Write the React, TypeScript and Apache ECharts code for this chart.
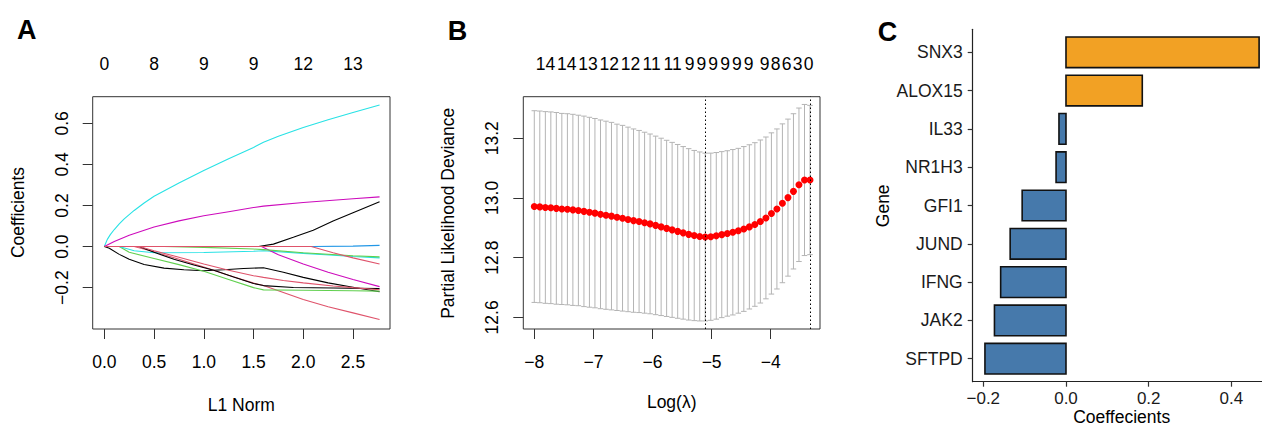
import React, { useEffect, useRef } from 'react';
import * as echarts from 'echarts';

const FONT = '"Liberation Sans", Arial, Helvetica, sans-serif';

// ---------------- Panel A : coefficient paths ----------------
const l1Ticks = [0, 0.5, 1, 1.5, 2, 2.5];
const l1TopLabels = ['0', '8', '9', '9', '12', '13'];
const coefTicksA = [-0.2, 0, 0.2, 0.4, 0.6];

const pathCyan1 = [[0, 0], [0.03, 0.035], [0.06, 0.058], [0.1, 0.083], [0.15, 0.11], [0.2, 0.135], [0.3, 0.176], [0.4, 0.212], [0.5, 0.245], [0.75, 0.31], [1.0, 0.37], [1.25, 0.428], [1.5, 0.483], [1.6, 0.508], [1.75, 0.537], [2.0, 0.58], [2.25, 0.618], [2.5, 0.653], [2.767, 0.69]];
const pathMagenta1 = [[0, 0], [0.1, 0.025], [0.25, 0.055], [0.5, 0.095], [0.75, 0.125], [1.0, 0.15], [1.25, 0.17], [1.5, 0.19], [1.6, 0.197], [2.0, 0.215], [2.5, 0.233], [2.767, 0.242]];
const pathBlack1 = [[0, 0], [0.05, -0.008], [0.15, -0.038], [0.25, -0.062], [0.4, -0.087], [0.6, -0.105], [0.8, -0.113], [1.0, -0.118], [1.2, -0.113], [1.4, -0.107], [1.6, -0.103], [1.8, -0.125], [2.0, -0.15], [2.25, -0.177], [2.5, -0.198], [2.767, -0.22]];
const pathBlack2 = [[0, 0], [0.35, 0], [0.5, -0.028], [0.7, -0.062], [0.9, -0.09], [1.1, -0.115], [1.3, -0.148], [1.5, -0.18], [1.6, -0.19], [1.9, -0.199], [2.3, -0.202], [2.767, -0.205]];
const pathBlack3 = [[0, 0], [1.55, 0], [1.7, 0.012], [1.9, 0.045], [2.1, 0.08], [2.3, 0.125], [2.5, 0.165], [2.767, 0.218]];
const pathRed1 = [[0, 0], [2.08, 0], [2.3, -0.03], [2.5, -0.055], [2.767, -0.085]];
const pathRed2 = [[0, 0], [0.3, 0], [0.5, -0.025], [0.75, -0.062], [1.0, -0.1], [1.25, -0.14], [1.5, -0.178], [1.6, -0.19], [1.75, -0.215], [2.0, -0.258], [2.25, -0.293], [2.5, -0.323], [2.767, -0.355]];
const pathRed3 = [[0, 0], [0.35, 0], [0.5, -0.02], [0.75, -0.052], [1.0, -0.085], [1.25, -0.115], [1.5, -0.142], [1.6, -0.15], [1.8, -0.165], [2.0, -0.177], [2.3, -0.192], [2.5, -0.2], [2.767, -0.21]];
const pathGreen1 = [[0, 0], [0.15, 0], [0.25, -0.028], [0.5, -0.058], [0.75, -0.088], [1.0, -0.12], [1.25, -0.16], [1.5, -0.2], [1.6, -0.211], [2.0, -0.213], [2.5, -0.215], [2.767, -0.217]];
const pathGreen2 = [[0, 0], [0.6, 0], [1.0, -0.004], [1.5, -0.012], [1.6, -0.015], [2.0, -0.03], [2.5, -0.045], [2.767, -0.05]];
const pathCyan2 = [[0, 0], [0.15, 0], [0.3, -0.02], [0.5, -0.03], [1.0, -0.029], [1.5, -0.023], [1.6, -0.02], [2.0, -0.033], [2.5, -0.048], [2.767, -0.055]];
const pathBlue1 = [[0, 0], [2.1, 0], [2.5, 0.002], [2.767, 0.006]];
const pathMagenta2 = [[0, 0], [1.58, 0], [1.75, -0.04], [2.0, -0.085], [2.25, -0.125], [2.5, -0.16], [2.767, -0.195]];

const R_BLACK = '#000000';
const R_RED = '#DF536B';
const R_GREEN = '#61D04F';
const R_BLUE = '#2297E6';
const R_CYAN = '#28E2E5';
const R_MAGENTA = '#CD0BBC';

const pathsA: { data: number[][]; color: string }[] = [
  { data: pathBlack1, color: R_BLACK },
  { data: pathRed2, color: R_RED },
  { data: pathGreen1, color: R_GREEN },
  { data: pathBlue1, color: R_BLUE },
  { data: pathCyan2, color: R_CYAN },
  { data: pathMagenta2, color: R_MAGENTA },
  { data: pathBlack2, color: R_BLACK },
  { data: pathRed3, color: R_RED },
  { data: pathGreen2, color: R_GREEN },
  { data: pathCyan1, color: R_CYAN },
  { data: pathMagenta1, color: R_MAGENTA },
  { data: pathBlack3, color: R_BLACK },
  { data: pathRed1, color: R_RED },
];

// ---------------- Panel B : cross-validation curve ----------------
const logLambda = [-8.000, -7.907, -7.813, -7.720, -7.627, -7.534, -7.440, -7.347, -7.254, -7.160,
  -7.067, -6.974, -6.880, -6.787, -6.694, -6.601, -6.507, -6.414, -6.321, -6.227,
  -6.134, -6.041, -5.947, -5.854, -5.761, -5.668, -5.574, -5.481, -5.388, -5.294,
  -5.201, -5.108, -5.014, -4.921, -4.828, -4.734, -4.641, -4.548, -4.455, -4.361,
  -4.268, -4.175, -4.081, -3.988, -3.895, -3.802, -3.708, -3.615, -3.522, -3.428, -3.335];
const cvm = [12.971, 12.970, 12.968, 12.967, 12.965, 12.963, 12.962, 12.960, 12.958, 12.955,
  12.952, 12.949, 12.945, 12.942, 12.939, 12.935, 12.932, 12.928, 12.924, 12.921,
  12.917, 12.913, 12.908, 12.903, 12.898, 12.893, 12.888, 12.883, 12.878, 12.874,
  12.871, 12.869, 12.870, 12.873, 12.877, 12.881, 12.885, 12.890, 12.896, 12.903,
  12.911, 12.921, 12.933, 12.948, 12.963, 12.982, 13.001, 13.022, 13.044, 13.060, 13.060];
const cvsd = [0.321, 0.321, 0.321, 0.321, 0.321, 0.320, 0.320, 0.320, 0.319, 0.319,
  0.318, 0.317, 0.316, 0.315, 0.314, 0.312, 0.311, 0.309, 0.307, 0.305,
  0.303, 0.301, 0.299, 0.297, 0.295, 0.293, 0.291, 0.289, 0.287, 0.285,
  0.283, 0.281, 0.280, 0.279, 0.278, 0.277, 0.277, 0.276, 0.276, 0.275,
  0.274, 0.273, 0.271, 0.270, 0.268, 0.266, 0.263, 0.260, 0.257, 0.253, 0.250];
const lambdaTicks = [-8, -7, -6, -5, -4];
const devianceTicks = [12.6, 12.8, 13.0, 13.2];
const nzPos = [-7.811, -7.452, -7.091, -6.733, -6.372, -6.014, -5.66, -5.374, -5.173, -4.973,
  -4.773, -4.574, -4.374, -4.102, -3.915, -3.729, -3.545, -3.359];
const nzLabels = ['14', '14', '13', '12', '12', '11', '11', '9', '9', '9', '9', '9', '9', '9', '8', '6', '3', '0'];
const logLambdaMin = -5.108;
const logLambda1se = -3.335;
const capHalfWidth = 0.0467;

// ---------------- Panel C : coefficients bar chart ----------------
const genes = ['SNX3', 'ALOX15', 'IL33', 'NR1H3', 'GFI1', 'JUND', 'IFNG', 'JAK2', 'SFTPD'];
const geneCoef = [0.467, 0.1845, -0.017, -0.024, -0.106, -0.135, -0.158, -0.173, -0.196];
const coefTicksC = [-0.2, 0, 0.2, 0.4];
const POS_COLOR = '#F2A124';
const NEG_COLOR = '#4679AB';

const minus = (s: string) => s.replace('-', '\u2212');
const lookup = (vals: number[], labels: string[], v: number) => {
  const i = vals.findIndex((p) => Math.abs(p - v) < 1e-6);
  return i < 0 ? '' : labels[i];
};

const txt = (size = 17.5, color = '#000') => ({ fontSize: size, fontFamily: FONT, color });

function rAxis(gridIndex: number, position: string, min: number, max: number, ticks: number[], fmt: (v: number) => string, rotate = 0, margin = 24, showTick = true) {
  return {
    type: 'value',
    gridIndex,
    position,
    min,
    max,
    axisLine: { show: false, onZero: false },
    splitLine: { show: false },
    axisTick: { show: showTick, inside: false, length: 10, customValues: ticks, lineStyle: { color: '#333', width: 1 } },
    axisLabel: { show: true, margin, rotate, customValues: ticks, formatter: (v: number) => fmt(v), ...txt() },
  };
}

function buildOption() {
  const series: any[] = [];
  pathsA.forEach((p) => {
    series.push({
      type: 'line',
      xAxisIndex: 0,
      yAxisIndex: 0,
      data: p.data,
      showSymbol: false,
      symbol: 'none',
      silent: true,
      lineStyle: { color: p.color, width: 1.1 },
    });
  });

  const errData = logLambda.map((x, i) => [x, cvm[i] - cvsd[i], cvm[i] + cvsd[i]]);
  series.push({
    type: 'custom',
    xAxisIndex: 2,
    yAxisIndex: 1,
    silent: true,
    data: errData,
    encode: { x: 0, y: [1, 2] },
    renderItem: (params: any, api: any) => {
      const x = api.value(0);
      const lo = api.coord([x, api.value(1)]);
      const hi = api.coord([x, api.value(2)]);
      const hw = api.size([capHalfWidth, 0])[0];
      const st = { stroke: '#B4B4B4', lineWidth: 1 };
      return {
        type: 'group',
        children: [
          { type: 'line', shape: { x1: lo[0], y1: lo[1], x2: hi[0], y2: hi[1] }, style: st },
          { type: 'line', shape: { x1: hi[0] - hw, y1: hi[1], x2: hi[0] + hw, y2: hi[1] }, style: st },
          { type: 'line', shape: { x1: lo[0] - hw, y1: lo[1], x2: lo[0] + hw, y2: lo[1] }, style: st },
        ],
      };
    },
  });
  series.push({
    type: 'scatter',
    xAxisIndex: 2,
    yAxisIndex: 1,
    silent: true,
    data: logLambda.map((x, i) => [x, cvm[i]]),
    symbol: 'circle',
    symbolSize: 7,
    itemStyle: { color: '#FF0000', opacity: 1 },
    markLine: {
      silent: true,
      symbol: ['none', 'none'],
      label: { show: false },
      lineStyle: { type: [1.5, 2.5], color: '#000', width: 1 },
      data: [{ xAxis: logLambdaMin }, { xAxis: logLambda1se }],
    },
  });

  const barData = geneCoef.map((v, i) => [v, genes.length - 1 - i]);
  series.push({
    type: 'custom',
    xAxisIndex: 4,
    yAxisIndex: 2,
    silent: true,
    data: barData,
    encode: { x: 0, y: 1 },
    renderItem: (params: any, api: any) => {
      const v = api.value(0);
      const idx = api.value(1);
      const p0 = api.coord([0, idx]);
      const p1 = api.coord([v, idx]);
      const h = api.size([0, 0.8])[1];
      return {
        type: 'rect',
        shape: { x: Math.min(p0[0], p1[0]), y: p0[1] - h / 2, width: Math.abs(p1[0] - p0[0]), height: h },
        style: { fill: v >= 0 ? POS_COLOR : NEG_COLOR, stroke: '#111', lineWidth: 1.6 },
      };
    },
  });

  const geneIdx = genes.map((_, i) => i);
  const geneBottomUp = genes.slice().reverse();

  const textEl = (text: string, x: number, y: number, size: number, rotation = 0, bold = false) => ({
    type: 'text',
    x,
    y,
    rotation,
    silent: true,
    style: {
      text,
      fontSize: size,
      fontWeight: bold ? 'bold' : 'normal',
      fontFamily: FONT,
      fill: '#000',
      align: 'center',
      verticalAlign: 'middle',
    },
  });

  return {
    animation: false,
    backgroundColor: '#ffffff',
    grid: [
      { left: 92.7, top: 96.7, width: 297.3, height: 232.3, show: true, borderColor: '#333', borderWidth: 1, backgroundColor: 'transparent', containLabel: false, outerBoundsMode: 'none' },
      { left: 523.3, top: 96.7, width: 296.7, height: 232.3, show: true, borderColor: '#333', borderWidth: 1, backgroundColor: 'transparent', containLabel: false, outerBoundsMode: 'none' },
      { left: 972.7, top: 29.3, width: 289.3, height: 352.4, show: false, containLabel: false, outerBoundsMode: 'none' },
    ],
    xAxis: [
      rAxis(0, 'bottom', -0.117, 2.872, l1Ticks, (v) => v.toFixed(1)),
      rAxis(0, 'top', -0.117, 2.872, l1Ticks, (v) => lookup(l1Ticks, l1TopLabels, v), 0, 24, false),
      rAxis(1, 'bottom', -8.186, -3.166, lambdaTicks, (v) => minus(String(Math.round(v)))),
      rAxis(1, 'top', -8.186, -3.166, nzPos, (v) => lookup(nzPos, nzLabels, v), 0, 24, false),
      {
        type: 'value',
        gridIndex: 2,
        position: 'bottom',
        min: -0.2256,
        max: 0.474,
        axisLine: { show: true, onZero: false, lineStyle: { color: '#222', width: 1.2 } },
        splitLine: { show: false },
        axisTick: { show: true, inside: false, length: 5, customValues: coefTicksC, lineStyle: { color: '#333', width: 1.2 } },
        axisLabel: { show: true, margin: 8, customValues: coefTicksC, formatter: (v: number) => minus(v.toFixed(1)), ...txt(17, '#1a1a1a') },
      },
    ],
    yAxis: [
      rAxis(0, 'left', -0.4015, 0.73, coefTicksA, (v) => minus(v.toFixed(1)), 90, 22),
      rAxis(1, 'left', 12.561, 13.339, devianceTicks, (v) => v.toFixed(1), 90, 22),
      {
        type: 'value',
        gridIndex: 2,
        position: 'left',
        min: -0.6,
        max: 8.6,
        axisLine: { show: true, onZero: false, lineStyle: { color: '#222', width: 1.2 } },
        splitLine: { show: false },
        axisTick: { show: true, inside: false, length: 5, customValues: geneIdx, lineStyle: { color: '#333', width: 1.2 } },
        axisLabel: { show: true, margin: 10, customValues: geneIdx, formatter: (v: number) => geneBottomUp[Math.round(v)] ?? '', ...txt(17.5, '#1a1a1a') },
      },
    ],
    series,
    graphic: [
      textEl('A', 26.7, 30, 27, 0, true),
      textEl('B', 457.5, 31, 27, 0, true),
      textEl('C', 887.5, 31.7, 27, 0, true),
      textEl('L1 Norm', 241.3, 405, 17.5),
      textEl('Log(\u03bb)', 671.7, 402, 17.5),
      textEl('Coefficients', 18, 212.5, 17.5, Math.PI / 2),
      textEl('Partial Likelihood Deviance', 448.3, 213.3, 17.5, Math.PI / 2),
      textEl('Gene', 883.3, 205.8, 17.5, Math.PI / 2),
      textEl('Coeffecients', 1121.7, 416.5, 17.5),
    ],
  };
}

export default function App() {
  const ref = useRef<HTMLDivElement>(null);
  useEffect(() => {
    document.body.style.margin = '0';
    if (!ref.current) return;
    const chart = echarts.init(ref.current, null, { renderer: 'svg' });
    chart.setOption(buildOption() as any);
    return () => chart.dispose();
  }, []);
  return <div ref={ref} style={{ width: 1262, height: 426 }} />;
}
